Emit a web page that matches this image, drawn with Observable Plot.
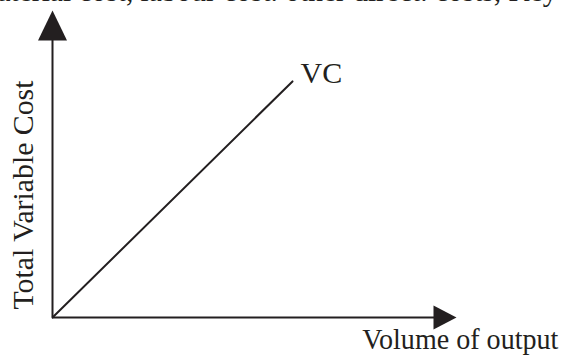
<!DOCTYPE html>
<html>
<head>
<meta charset="utf-8">
<script src="https://cdn.jsdelivr.net/npm/d3@7"></script>
<script src="https://cdn.jsdelivr.net/npm/@observablehq/plot@0.6"></script>
<style>
  html, body { margin: 0; padding: 0; background: #fff; }
  #chart { width: 565px; height: 356px; overflow: hidden; }
</style>
</head>
<body>
<div id="chart"></div>
<script>
// Data
const volume = [0, 59.4];          // volume of output (relative units)
const variableCost = [0, 76.9];    // total variable cost (relative units)
const seriesLabel = ["VC"];
const xLabel = ["Volume of output"];
const yLabel = ["Total Variable Cost"];
const topText = ["aterial cost, labour cost. other direct. costs, Key"];
const axisMax = [100];

const vc = volume.map((v, i) => ({volume: v, cost: variableCost[i]}));
const ink = "#231f20";

const upArrow = {draw(ctx) { ctx.moveTo(0, 0); ctx.lineTo(14.5, 30); ctx.lineTo(-14.5, 30); ctx.closePath(); }};
const rightArrow = {draw(ctx) { ctx.moveTo(0, 0); ctx.lineTo(12, 23); ctx.lineTo(-12, 23); ctx.closePath(); }};

const chart = Plot.plot({
  width: 565,
  height: 356,
  marginLeft: 52,
  marginRight: 109,
  marginTop: 10,
  marginBottom: 39,
  x: {domain: [0, axisMax[0]], axis: null},
  y: {domain: [0, axisMax[0]], axis: null},
  style: {fontFamily: "'Liberation Serif', 'Times New Roman', serif", fontSize: "30px", color: ink, background: "#fff", overflow: "visible"},
  marks: [
    Plot.ruleY([0], {x1: 0, x2: axisMax[0] - 4, stroke: ink, strokeWidth: 2}),
    Plot.ruleX([0], {y1: 0, y2: axisMax[0] - 4, stroke: ink, strokeWidth: 2}),
    Plot.dot([{x: 0, y: axisMax[0]}], {x: "x", y: "y", symbol: upArrow, fill: ink, stroke: "none"}),
    Plot.dot([{x: axisMax[0], y: 0}], {x: "x", y: "y", symbol: rightArrow, rotate: 90, fill: ink, stroke: "none"}),
    Plot.line(vc, {x: "volume", y: "cost", stroke: ink, strokeWidth: 2}),
    Plot.text(seriesLabel, {x: () => volume[volume.length - 1], y: () => variableCost[variableCost.length - 1], text: d => d, textAnchor: "start", dx: 8, dy: -8, fill: ink}),
    Plot.text(xLabel, {x: () => 76.7, y: () => 0, text: d => d, textAnchor: "start", dy: 21.4, fill: ink, className: "xlab"}),
    Plot.text(yLabel, {x: () => -7.1, y: () => 39.9, text: d => d, rotate: -90, fill: ink, className: "ylab"}),
    Plot.text(topText, {x: () => -13.6, y: () => 106.1, text: d => d, textAnchor: "start", fill: ink, className: "toptext"})
  ]
});
document.getElementById("chart").appendChild(chart);
d3.select(chart).selectAll(".toptext text").attr("textLength", 560).attr("lengthAdjust", "spacingAndGlyphs");
d3.select(chart).selectAll(".xlab text").attr("textLength", 196).attr("lengthAdjust", "spacingAndGlyphs");
d3.select(chart).selectAll(".ylab text").attr("textLength", 229).attr("lengthAdjust", "spacingAndGlyphs");
</script>
</body>
</html>
